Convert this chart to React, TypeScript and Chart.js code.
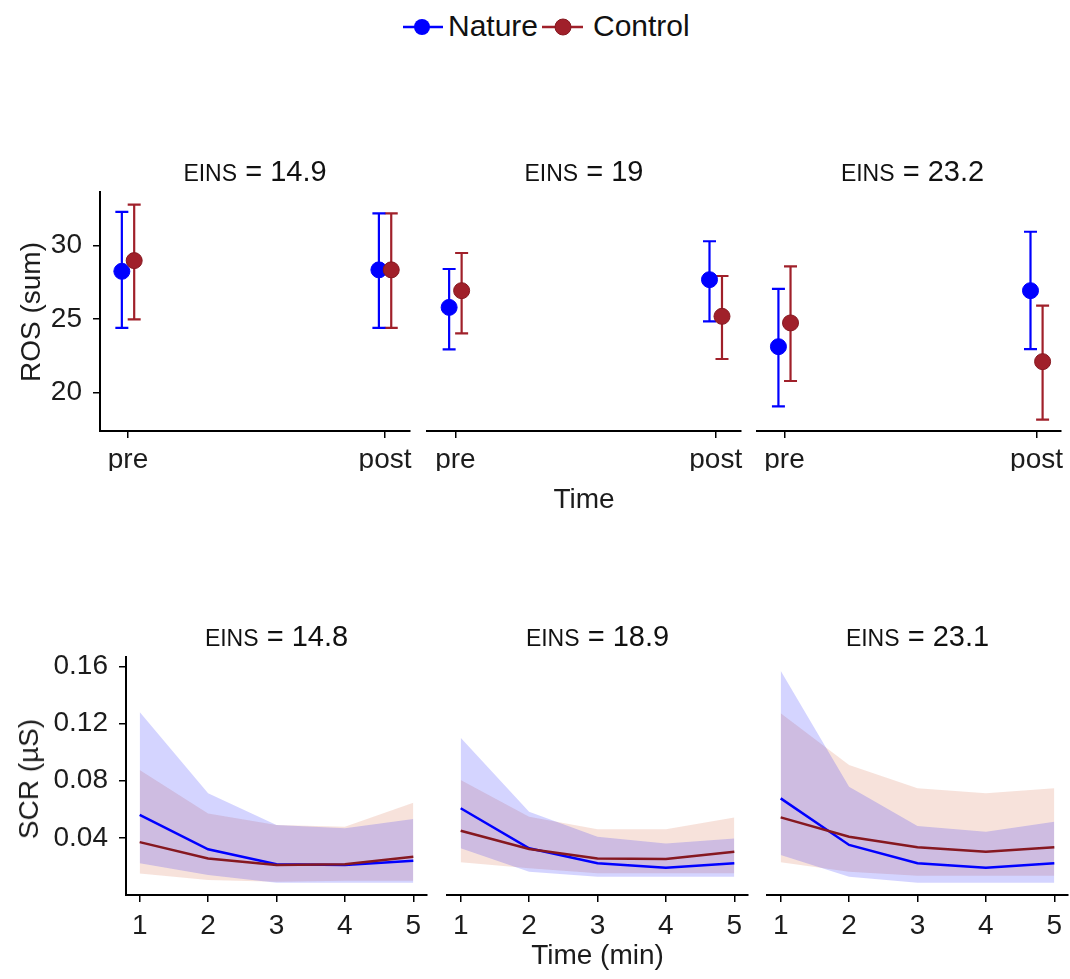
import React, { useEffect, useRef } from 'react';
import { Chart, registerables } from 'chart.js';

Chart.register(...registerables);

const FONT = '"Liberation Sans", Arial, Helvetica, sans-serif';
const NATURE = '#0000FF';
const CONTROL = '#A0202A';
const CONTROL_DARK = '#861820';
const NATURE_FILL = 'rgba(0, 0, 255, 0.17)';
const CONTROL_FILL = 'rgba(205, 85, 40, 0.17)';
const TEXT = '#1c1c1c';
const TICK_SIZE = 28;

// ---------- Top row: ROS (sum) by Time, faceted by EINS ----------
const timeLabels = ['pre', 'post'];
const rosTicks = [20, 25, 30];
const rosTitles = ['14.9', '19', '23.2'];
const rosNatureMean = [[28.25, 28.35], [25.79, 27.68], [23.11, 26.93]];
const rosNatureLow = [[24.4, 24.4], [22.93, 24.84], [19.04, 22.95]];
const rosNatureHigh = [[32.3, 32.2], [28.41, 30.3], [27.05, 30.95]];
const rosControlMean = [[28.98, 28.35], [26.93, 25.18], [24.73, 22.09]];
const rosControlLow = [[24.97, 24.4], [24.02, 22.27], [20.77, 18.13]];
const rosControlHigh = [[32.8, 32.2], [29.5, 27.93], [28.59, 25.91]];

// ---------- Bottom row: SCR (µS) by minute, faceted by EINS ----------
const minutes = [1, 2, 3, 4, 5];
const scrTicks = [0.04, 0.08, 0.12, 0.16];
const scrTitles = ['14.8', '18.9', '23.1'];
const scrNatureMean = [
  [0.056, 0.032, 0.0215, 0.021, 0.024],
  [0.0607, 0.0327, 0.0222, 0.0191, 0.0222],
  [0.0676, 0.035, 0.0222, 0.0191, 0.0222],
];
const scrNatureUpper = [
  [0.128, 0.0712, 0.049, 0.0467, 0.0532],
  [0.11, 0.0583, 0.0408, 0.0361, 0.0396],
  [0.1568, 0.0758, 0.0483, 0.0443, 0.0513],
];
const scrNatureLower = [
  [0.0222, 0.014, 0.0086, 0.0086, 0.0086],
  [0.0327, 0.0163, 0.0128, 0.0128, 0.0128],
  [0.028, 0.0128, 0.0086, 0.0086, 0.0086],
];
const scrControlMean = [
  [0.037, 0.0256, 0.021, 0.0215, 0.0268],
  [0.045, 0.0322, 0.0256, 0.0252, 0.0303],
  [0.0543, 0.0408, 0.0334, 0.0303, 0.0334],
];
const scrControlUpper = [
  [0.0874, 0.057, 0.049, 0.0478, 0.0646],
  [0.0805, 0.0548, 0.046, 0.046, 0.0543],
  [0.1271, 0.091, 0.0747, 0.0712, 0.0747],
];
const scrControlLower = [
  [0.0151, 0.0105, 0.0093, 0.01, 0.01],
  [0.0229, 0.0187, 0.0152, 0.0152, 0.0152],
  [0.0229, 0.0163, 0.0135, 0.0135, 0.0135],
];

const DODGE = 0.024;

const errorBarPlugin = {
  id: 'errorBars',
  beforeDatasetsDraw(chart: any) {
    const ctx = chart.ctx;
    const xs = chart.scales.x;
    const ys = chart.scales.y;
    chart.data.datasets.forEach((ds: any) => {
      if (!ds.errLow) return;
      ctx.save();
      ctx.strokeStyle = ds.errColor;
      ctx.lineWidth = 2.2;
      ds.data.forEach((p: any, j: number) => {
        const px = xs.getPixelForValue(p.x);
        const lo = ys.getPixelForValue(ds.errLow[j]);
        const hi = ys.getPixelForValue(ds.errHigh[j]);
        ctx.beginPath();
        ctx.moveTo(px, lo);
        ctx.lineTo(px, hi);
        ctx.moveTo(px - 6.5, lo);
        ctx.lineTo(px + 6.5, lo);
        ctx.moveTo(px - 6.5, hi);
        ctx.lineTo(px + 6.5, hi);
        ctx.stroke();
      });
      ctx.restore();
    });
  },
};

function axisCommon(padding: number) {
  return {
    ticks: { font: { size: TICK_SIZE, family: FONT }, color: TEXT, padding, maxRotation: 0, autoSkip: false },
    grid: { display: true, drawOnChartArea: false, drawTicks: true, tickLength: 7, color: '#000', lineWidth: 1.5 },
    border: { display: true, color: '#000', width: 2 },
  };
}

function xAxis(min: number, max: number, tickValues: number[], labels: string[], height: number, pad: number) {
  const c = axisCommon(pad);
  return {
    type: 'linear',
    min,
    max,
    ...c,
    ticks: { ...c.ticks, callback: (_v: any, i: number) => labels[i] },
    afterBuildTicks: (s: any) => {
      s.ticks = tickValues.map((v) => ({ value: v }));
    },
    afterFit: (s: any) => {
      s.height = height;
      s.paddingLeft = 0;
      s.paddingRight = 0;
      s.paddingTop = 0;
      s.paddingBottom = 0;
    },
  };
}

function yAxis(min: number, max: number, tickValues: number[], labels: string[], show: boolean, width: number) {
  const c = axisCommon(11);
  return {
    type: 'linear',
    min,
    max,
    display: show,
    ...c,
    ticks: { ...c.ticks, callback: (_v: any, i: number) => labels[i] },
    afterBuildTicks: (s: any) => {
      s.ticks = tickValues.map((v) => ({ value: v }));
    },
    afterFit: (s: any) => {
      s.width = show ? width : 0;
      s.paddingLeft = 0;
      s.paddingRight = 0;
      s.paddingTop = 0;
      s.paddingBottom = 0;
    },
  };
}

type PanelProps = { left: number; top: number; width: number; height: number; config: any };

function ChartPanel({ left, top, width, height, config }: PanelProps) {
  const ref = useRef<HTMLCanvasElement | null>(null);
  useEffect(() => {
    if (!ref.current) return;
    const chart = new Chart(ref.current, config);
    return () => chart.destroy();
  }, []);
  return (
    <canvas
      ref={ref}
      width={width}
      height={height}
      style={{ position: 'absolute', left, top, width, height }}
    />
  );
}

function rosConfig(k: number, padLeft: number, padRight: number, showY: boolean) {
  const natureData = timeLabels.map((_, i) => ({ x: i - DODGE, y: rosNatureMean[k][i] }));
  const controlData = timeLabels.map((_, i) => ({ x: i + DODGE, y: rosControlMean[k][i] }));
  return {
    type: 'scatter',
    data: {
      datasets: [
        {
          label: 'Control',
          data: controlData,
          errLow: rosControlLow[k],
          errHigh: rosControlHigh[k],
          errColor: CONTROL,
          backgroundColor: CONTROL,
          borderColor: CONTROL_DARK,
          borderWidth: 1,
          pointRadius: 8,
          showLine: false,
          order: 0,
        },
        {
          label: 'Nature',
          data: natureData,
          errLow: rosNatureLow[k],
          errHigh: rosNatureHigh[k],
          errColor: NATURE,
          backgroundColor: NATURE,
          borderColor: NATURE,
          borderWidth: 1,
          pointRadius: 8,
          showLine: false,
          order: 1,
        },
      ],
    },
    options: {
      responsive: false,
      animation: false,
      events: [],
      layout: { padding: { left: padLeft, right: padRight, top: 42, bottom: 19 } },
      plugins: { legend: { display: false }, tooltip: { enabled: false }, title: { display: false } },
      scales: {
        x: xAxis(-0.109, 1.097, [0, 1], timeLabels, 40, 5),
        y: yAxis(17.36, 33.66, rosTicks, rosTicks.map(String), showY, 100),
      },
    },
    plugins: [errorBarPlugin],
  };
}

function scrConfig(k: number, padLeft: number, padRight: number, showY: boolean) {
  const pts = (arr: number[]) => minutes.map((m, i) => ({ x: m, y: arr[i] }));
  const band = { borderWidth: 0, pointRadius: 0, tension: 0 };
  return {
    type: 'line',
    data: {
      datasets: [
        { label: 'Nature upper', data: pts(scrNatureUpper[k]), fill: '+1', backgroundColor: NATURE_FILL, borderColor: 'transparent', order: 2, ...band },
        { label: 'Nature lower', data: pts(scrNatureLower[k]), fill: false, borderColor: 'transparent', order: 2, ...band },
        { label: 'Control upper', data: pts(scrControlUpper[k]), fill: '+1', backgroundColor: CONTROL_FILL, borderColor: 'transparent', order: 2, ...band },
        { label: 'Control lower', data: pts(scrControlLower[k]), fill: false, borderColor: 'transparent', order: 2, ...band },
        { label: 'Nature', data: pts(scrNatureMean[k]), fill: false, borderColor: NATURE, borderWidth: 2.5, pointRadius: 0, tension: 0, order: 0 },
        { label: 'Control', data: pts(scrControlMean[k]), fill: false, borderColor: CONTROL_DARK, borderWidth: 2.5, pointRadius: 0, tension: 0, order: -1 },
      ],
    },
    options: {
      responsive: false,
      animation: false,
      events: [],
      layout: { padding: { left: padLeft, right: padRight, top: 37, bottom: 25 } },
      plugins: { legend: { display: false }, tooltip: { enabled: false }, title: { display: false } },
      scales: {
        x: xAxis(0.8, 5.2, minutes, minutes.map(String), 45, 7),
        y: yAxis(0, 0.1665, scrTicks, scrTicks.map((v) => v.toFixed(2)), showY, 126),
      },
    },
  };
}

const textTop = (baseline: number, fs: number) => baseline - 0.8465 * fs;

function PanelTitle({ cx, baseline, value }: { cx: number; baseline: number; value: string }) {
  return (
    <div
      style={{
        position: 'absolute',
        left: cx - 120,
        width: 240,
        top: textTop(baseline, 29),
        textAlign: 'center',
        fontSize: 29,
        lineHeight: 1,
        whiteSpace: 'nowrap',
        color: '#111',
      }}
    >
      <span style={{ fontSize: 23 }}>EINS</span> = {value}
    </div>
  );
}

function Legend() {
  return (
    <>
      <svg style={{ position: 'absolute', left: 0, top: 0 }} width={1070} height={55}>
        <line x1={403} y1={27} x2={443} y2={27} stroke={NATURE} strokeWidth={2.5} />
        <circle cx={422} cy={27} r={8} fill={NATURE} />
        <line x1={542} y1={27} x2={583} y2={27} stroke={CONTROL} strokeWidth={2.5} />
        <circle cx={563} cy={27} r={8} fill={CONTROL} stroke={CONTROL_DARK} strokeWidth={1} />
      </svg>
      <div style={{ position: 'absolute', left: 448, top: textTop(36.7, 30), fontSize: 30, lineHeight: 1, color: '#111', whiteSpace: 'nowrap' }}>Nature</div>
      <div style={{ position: 'absolute', left: 593, top: textTop(36.7, 30), fontSize: 30, lineHeight: 1, color: '#111', whiteSpace: 'nowrap' }}>Control</div>
    </>
  );
}

export default function App() {
  const axisTitle = { position: 'absolute' as const, fontSize: 28, lineHeight: 1, color: TEXT, whiteSpace: 'nowrap' as const };
  return (
    <div
      style={{
        position: 'absolute',
        left: 0,
        top: 0,
        width: 1070,
        height: 979,
        background: '#fff',
        fontFamily: FONT,
        overflow: 'hidden',
      }}
    >
      <Legend />

      {/* Top row */}
      <ChartPanel left={0} top={150} width={440} height={340} config={rosConfig(0, 0, 30, true)} />
      <ChartPanel left={410} top={150} width={350} height={340} config={rosConfig(1, 17, 19, false)} />
      <ChartPanel left={740} top={150} width={330} height={340} config={rosConfig(2, 17, 2, false)} />
      <PanelTitle cx={255} baseline={181.5} value={rosTitles[0]} />
      <PanelTitle cx={584} baseline={181.5} value={rosTitles[1]} />
      <PanelTitle cx={912.5} baseline={181.5} value={rosTitles[2]} />
      <div style={{ ...axisTitle, left: 584, top: textTop(509, 28), transform: 'translateX(-50%)' }}>Time</div>
      <div style={{ ...axisTitle, left: 31, top: 311.5, transform: 'translate(-50%, -50%) rotate(-90deg)' }}>ROS (sum)</div>

      {/* Bottom row */}
      <ChartPanel left={0} top={620} width={445} height={345} config={scrConfig(0, 0, 18, true)} />
      <ChartPanel left={430} top={620} width={335} height={345} config={scrConfig(1, 17, 17, false)} />
      <ChartPanel left={750} top={620} width={320} height={345} config={scrConfig(2, 17, 2, false)} />
      <PanelTitle cx={276.5} baseline={646.5} value={scrTitles[0]} />
      <PanelTitle cx={597.5} baseline={646.5} value={scrTitles[1]} />
      <PanelTitle cx={917.5} baseline={646.5} value={scrTitles[2]} />
      <div style={{ ...axisTitle, left: 597.5, top: textTop(965, 28), transform: 'translateX(-50%)' }}>Time (min)</div>
      <div style={{ ...axisTitle, left: 29, top: 779, transform: 'translate(-50%, -50%) rotate(-90deg)' }}>SCR (µS)</div>
    </div>
  );
}
